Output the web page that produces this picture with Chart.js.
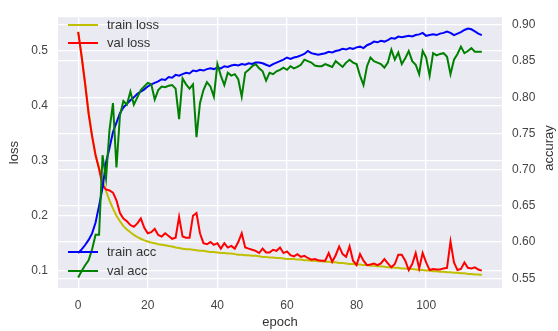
<!DOCTYPE html>
<html>
<head>
<meta charset="utf-8">
<title>loss / accuray</title>
<script src="https://cdn.jsdelivr.net/npm/chart.js@4"></script>
<style>
  html, body { margin: 0; padding: 0; background: #fff; }
</style>
</head>
<body>
<canvas id="grafico" width="558" height="331"></canvas>
<script>
  // valores (época 0..116)
  const trainLoss = [
    0.535, 0.49, 0.44, 0.39, 0.345, 0.31, 0.288, 0.265, 0.245, 0.228, 0.213,
    0.2, 0.19, 0.181, 0.175, 0.17, 0.165, 0.161, 0.158, 0.155, 0.153,
    0.151, 0.15, 0.148, 0.147, 0.146, 0.145, 0.144, 0.142, 0.141, 0.14,
    0.139, 0.139, 0.138, 0.137, 0.136, 0.136, 0.135, 0.134, 0.134, 0.133,
    0.132, 0.132, 0.131, 0.131, 0.13, 0.129, 0.129, 0.128, 0.128, 0.127,
    0.127, 0.126, 0.125, 0.125, 0.124, 0.124, 0.123, 0.123, 0.122, 0.121,
    0.121, 0.121, 0.12, 0.12, 0.119, 0.119, 0.118, 0.118, 0.117, 0.117,
    0.116, 0.116, 0.115, 0.115, 0.114, 0.114, 0.113, 0.112, 0.112, 0.111,
    0.111, 0.11, 0.11, 0.109, 0.109, 0.108, 0.108, 0.107, 0.106, 0.106,
    0.105, 0.105, 0.104, 0.104, 0.103, 0.103, 0.102, 0.101, 0.101, 0.1,
    0.1, 0.099, 0.099, 0.098, 0.098, 0.097, 0.097, 0.096, 0.096, 0.095,
    0.095, 0.094, 0.094, 0.093, 0.093, 0.092
  ];
  const valLoss = [
    0.535, 0.49, 0.44, 0.385, 0.345, 0.31, 0.285, 0.255, 0.248, 0.246, 0.242,
    0.228, 0.205, 0.195, 0.19, 0.183, 0.18, 0.186, 0.195, 0.178, 0.168,
    0.17, 0.176, 0.165, 0.162, 0.168, 0.163, 0.158, 0.16, 0.198, 0.162,
    0.16, 0.16, 0.2, 0.205, 0.168, 0.15, 0.148, 0.152, 0.147, 0.15,
    0.14, 0.15, 0.142, 0.145, 0.14, 0.152, 0.168, 0.142, 0.14, 0.138,
    0.136, 0.132, 0.14, 0.133, 0.133, 0.138, 0.136, 0.142, 0.132, 0.135,
    0.128, 0.126, 0.13, 0.125, 0.127, 0.123, 0.12, 0.121, 0.119, 0.118,
    0.118, 0.132, 0.116, 0.128, 0.144, 0.13, 0.125, 0.144, 0.118, 0.11,
    0.13, 0.118, 0.11, 0.111, 0.113, 0.11, 0.113, 0.121, 0.113, 0.106,
    0.112, 0.129, 0.129, 0.118, 0.101, 0.112, 0.132, 0.104, 0.132, 0.115,
    0.101, 0.103, 0.102, 0.102, 0.104, 0.105, 0.153, 0.115, 0.101, 0.103,
    0.115, 0.105, 0.104, 0.106, 0.102, 0.1
  ];
  const trainAcc = [
    0.585, 0.59, 0.596, 0.603, 0.612, 0.627, 0.65, 0.675, 0.71, 0.73, 0.752,
    0.765, 0.778, 0.786, 0.791, 0.796, 0.8, 0.805, 0.808, 0.811, 0.815,
    0.818, 0.82, 0.822, 0.825, 0.824, 0.828, 0.827, 0.831, 0.83, 0.832,
    0.834, 0.833, 0.837, 0.836, 0.838, 0.837, 0.839, 0.84, 0.839, 0.841,
    0.84, 0.843, 0.842, 0.844, 0.845, 0.844, 0.846, 0.845, 0.847, 0.846,
    0.848, 0.848, 0.847, 0.845, 0.843, 0.846, 0.848, 0.85, 0.852, 0.855,
    0.853, 0.855, 0.856, 0.858, 0.86, 0.864, 0.861, 0.86, 0.859, 0.86,
    0.861, 0.863, 0.862, 0.864, 0.865, 0.867, 0.866, 0.868, 0.867, 0.869,
    0.87, 0.868, 0.872, 0.874, 0.877, 0.876, 0.878, 0.877, 0.879, 0.882,
    0.881, 0.884, 0.883, 0.884, 0.885, 0.884, 0.886, 0.887, 0.889, 0.885,
    0.886, 0.887, 0.886, 0.888, 0.889, 0.891, 0.889, 0.886, 0.888, 0.89,
    0.893, 0.895, 0.894, 0.891, 0.888, 0.886
  ];
  const valAcc = [
    0.551, 0.56, 0.568, 0.575, 0.59, 0.61, 0.61, 0.72, 0.688, 0.755, 0.792,
    0.703, 0.775, 0.795, 0.79, 0.808, 0.79, 0.8, 0.81, 0.815, 0.82,
    0.818, 0.797, 0.81, 0.815, 0.814, 0.816, 0.817, 0.812, 0.77, 0.826,
    0.818, 0.812, 0.818, 0.745, 0.792, 0.81, 0.821, 0.815, 0.801, 0.846,
    0.83, 0.817, 0.834, 0.83, 0.832, 0.825, 0.801, 0.834, 0.838, 0.843,
    0.846, 0.84, 0.836, 0.823, 0.834, 0.832, 0.836, 0.838, 0.841, 0.838,
    0.843, 0.84, 0.842, 0.845, 0.852, 0.85, 0.848, 0.844, 0.843, 0.843,
    0.846, 0.844, 0.842, 0.85, 0.846, 0.842, 0.848, 0.852, 0.848, 0.846,
    0.83, 0.817, 0.843, 0.855, 0.85, 0.848, 0.846, 0.841, 0.848, 0.866,
    0.852, 0.862, 0.846, 0.854, 0.864, 0.85, 0.845, 0.832, 0.864, 0.855,
    0.83, 0.861, 0.858, 0.86, 0.861, 0.856, 0.832, 0.852, 0.86, 0.87,
    0.861, 0.864, 0.868, 0.863, 0.863, 0.863
  ];
  const epochTicks = [0, 20, 40, 60, 80, 100];
  const lossTicks = [0.1, 0.2, 0.3, 0.4, 0.5];
  const accTicks = [0.55, 0.60, 0.65, 0.70, 0.75, 0.80, 0.85, 0.90];

  const fonte = '"Liberation Sans", Arial, sans-serif';
  const pontos = arr => arr.map((v, i) => ({ x: i, y: v }));

  // fundo cinza-azulado do estilo seaborn
  const fundo = {
    id: 'fundo',
    beforeDraw(chart) {
      const { ctx, chartArea: a } = chart;
      ctx.save();
      ctx.fillStyle = '#EAEAF2';
      ctx.fillRect(a.left, a.top, a.right - a.left, a.bottom - a.top);
      ctx.restore();
    }
  };

  // duas legendas (loss em cima, acc embaixo) + título do eixo direito
  const legendas = {
    id: 'legendas',
    afterDraw(chart) {
      const ctx = chart.ctx;
      const ds = chart.data.datasets;
      const itens = [[ds[0], 25], [ds[1], 43], [ds[2], 252], [ds[3], 271]];
      ctx.save();
      ctx.font = '13px ' + fonte;
      ctx.textBaseline = 'middle';
      itens.forEach(([d, y]) => {
        ctx.strokeStyle = d.borderColor;
        ctx.lineWidth = 2;
        ctx.beginPath();
        ctx.moveTo(68, y);
        ctx.lineTo(98, y);
        ctx.stroke();
        ctx.fillStyle = '#333';
        ctx.fillText(d.label, 107, y);
      });
      ctx.translate(549, 148);
      ctx.rotate(-Math.PI / 2);
      ctx.textAlign = 'center';
      ctx.font = '13px ' + fonte;
      ctx.fillStyle = '#333';
      ctx.fillText('accuray', 0, 0);
      ctx.restore();
    }
  };

  const grade = { color: '#FFFFFF', lineWidth: 1.3, drawTicks: false };

  new Chart(document.getElementById('grafico'), {
    type: 'line',
    data: {
      datasets: [
        { label: 'train loss', data: pontos(trainLoss), yAxisID: 'y', borderColor: '#BFBF00', order: 4 },
        { label: 'val loss', data: pontos(valLoss), yAxisID: 'y', borderColor: '#FF0000', order: 3 },
        { label: 'train acc', data: pontos(trainAcc), yAxisID: 'y2', borderColor: '#0000FF', order: 2 },
        { label: 'val acc', data: pontos(valAcc), yAxisID: 'y2', borderColor: '#008000', order: 1 }
      ]
    },
    options: {
      responsive: false,
      animation: false,
      layout: { padding: { top: 8, left: 0, right: 0, bottom: 0 } },
      elements: {
        point: { radius: 0 },
        line: { borderWidth: 2, tension: 0, fill: false }
      },
      plugins: { legend: { display: false }, tooltip: { enabled: false } },
      scales: {
        x: {
          type: 'linear',
          min: -5.8,
          max: 121.8,
          afterBuildTicks: s => { s.ticks = epochTicks.map(v => ({ value: v })); },
          afterFit: s => { s.height = 43; },
          ticks: { padding: 10, color: '#444', font: { family: fonte, size: 12 } },
          grid: grade,
          border: { display: false },
          title: { display: true, text: 'epoch', color: '#333', font: { family: fonte, size: 13 }, padding: { top: 0, bottom: 1 } }
        },
        y: {
          position: 'left',
          min: 0.0683,
          max: 0.5617,
          afterBuildTicks: s => { s.ticks = lossTicks.map(v => ({ value: v })); },
          afterFit: s => { s.width = 58; },
          ticks: { padding: 10, color: '#444', font: { family: fonte, size: 12 }, callback: v => v.toFixed(1) },
          grid: grade,
          border: { display: false },
          title: { display: true, text: 'loss', color: '#333', font: { family: fonte, size: 13 }, padding: { top: 7, bottom: 0 } }
        },
        y2: {
          position: 'right',
          min: 0.5366,
          max: 0.9107,
          afterBuildTicks: s => { s.ticks = accTicks.map(v => ({ value: v })); },
          afterFit: s => { s.width = 56; },
          ticks: { padding: 10, color: '#444', font: { family: fonte, size: 12 }, callback: v => v.toFixed(2) },
          grid: grade,
          border: { display: false }
        }
      }
    },
    plugins: [fundo, legendas]
  });
</script>
</body>
</html>
